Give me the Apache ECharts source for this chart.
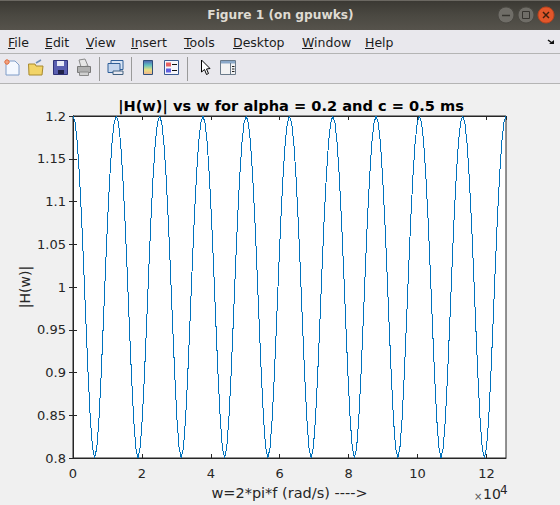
<!DOCTYPE html>
<html>
<head>
<meta charset="utf-8">
<style>
html,body{margin:0;padding:0;background:#f0f0f0}
#c{width:560px;height:505px}
/* the response curve is drawn without smoothing so it steps on the pixel grid */
#c path[stroke="#0072BD"]{shape-rendering:crispEdges}
</style>
<script src="https://cdn.jsdelivr.net/npm/echarts@6/dist/echarts.min.js"></script>
</head>
<body>
<div id="c"></div>
<script>
// Magnitude response, one row per period, in rad/s x 10^4 steps of sampleStep
const sampleStep = 0.0628318;
const magnitude = [
  1.2,1.192,1.168,1.129,1.079,1.02,0.957,0.897,0.846,0.812,0.8,0.812,0.846,0.897,0.957,1.02,1.079,1.129,1.168,1.192,
  1.2,1.192,1.168,1.129,1.079,1.02,0.957,0.897,0.846,0.812,0.8,0.812,0.846,0.897,0.957,1.02,1.079,1.129,1.168,1.192,
  1.2,1.192,1.168,1.129,1.079,1.02,0.957,0.897,0.846,0.812,0.8,0.812,0.846,0.897,0.957,1.02,1.079,1.129,1.168,1.192,
  1.2,1.192,1.168,1.129,1.079,1.02,0.957,0.897,0.846,0.812,0.8,0.812,0.846,0.897,0.957,1.02,1.079,1.129,1.168,1.192,
  1.2,1.192,1.168,1.129,1.079,1.02,0.957,0.897,0.846,0.812,0.8,0.812,0.846,0.897,0.957,1.02,1.079,1.129,1.168,1.192,
  1.2,1.192,1.168,1.129,1.079,1.02,0.957,0.897,0.846,0.812,0.8,0.812,0.846,0.897,0.957,1.02,1.079,1.129,1.168,1.192,
  1.2,1.192,1.168,1.129,1.079,1.02,0.957,0.897,0.846,0.812,0.8,0.812,0.846,0.897,0.957,1.02,1.079,1.129,1.168,1.192,
  1.2,1.192,1.168,1.129,1.079,1.02,0.957,0.897,0.846,0.812,0.8,0.812,0.846,0.897,0.957,1.02,1.079,1.129,1.168,1.192,
  1.2,1.192,1.168,1.129,1.079,1.02,0.957,0.897,0.846,0.812,0.8,0.812,0.846,0.897,0.957,1.02,1.079,1.129,1.168,1.192,
  1.2,1.192,1.168,1.129,1.079,1.02,0.957,0.897,0.846,0.812,0.8,0.812,0.846,0.897,0.957,1.02,1.079,1.129,1.168,1.192,
  1.2
];
const xTicks = [0, 2, 4, 6, 8, 10, 12];
const yTicks = ['0.8','0.85','0.9','0.95','1','1.05','1.1','1.15','1.2'];
const menuItems = [['File',8],['Edit',45],['View',86],['Insert',131],['Tools',184],['Desktop',233],['Window',302],['Help',365]];

const FONT = '"DejaVu Sans"';
const INK = '#262626';
const points = magnitude.map((v, i) => [i * sampleStep, v]);

// Window decorations are plain graphic elements around the plot
const rect = (x, y, w, h, fill, stroke) => ({type:'rect', shape:{x, y, width:w, height:h}, style:{fill, stroke: stroke || null, lineWidth:1}});
const line = (x1, y1, x2, y2, stroke, w) => ({type:'line', shape:{x1, y1, x2, y2}, style:{stroke, lineWidth:w || 1}});
const poly = (pts, fill, stroke) => ({type:'polygon', shape:{points:pts}, style:{fill, stroke: stroke || null, lineWidth:1}});
const circ = (cx, cy, r, fill, stroke) => ({type:'circle', shape:{cx, cy, r}, style:{fill, stroke: stroke || null, lineWidth:1}});
const label = (x, y, text, fontSize, fill, extra) => ({type:'text', x, y, style:Object.assign({text, fontFamily:FONT, fontSize, fill, textVerticalAlign:'middle'}, extra || {})});

const vGrad = (stops) => new echarts.graphic.LinearGradient(0, 0, 0, 1, stops.map((c, i) => ({offset:i / (stops.length - 1), color:c})));

const chrome = [
  // title bar
  rect(0, 0, 560, 30, vGrad(['#3a3833', '#4a4841', '#56534c'])),
  line(0, 0.5, 560, 0.5, '#6b6862'),
  label(280.5, 15, 'Figure 1 (on gpuwks)', 12.2, '#dfdbd2', {textAlign:'center', fontWeight:'bold'}),
  circ(506, 15, 8, '#6f6d67', '#4a4842'),
  line(502, 15.5, 510, 15.5, '#36342f', 1.5),
  circ(526, 15, 8, '#6f6d67', '#4a4842'),
  rect(522.5, 11.5, 7, 7, null, '#36342f'),
  circ(546, 15, 8, '#e2562a', '#b9431e'),
  line(543, 12, 549, 18, '#40200f', 1.5),
  line(549, 12, 543, 18, '#40200f', 1.5),
  // menu bar
  rect(0, 30, 560, 24, '#e9e8ed'),
  line(0, 53.5, 560, 53.5, '#b4b4b4'),
  // toolbar
  rect(0, 54, 560, 29, '#e9e8ed'),
  line(0, 83.5, 560, 83.5, '#b4b4b4'),
  line(99.5, 57, 99.5, 81, '#9a9a9a'),
  line(131.5, 57, 131.5, 81, '#9a9a9a'),
  line(187.5, 57, 187.5, 81, '#9a9a9a'),
  // new file
  poly([[6,61],[15,61],[19,65],[19,75],[6,75]], '#f4f8ff', '#7f9cc8'),
  circ(7, 62, 2.2, '#f0a080', '#e07040'),
  // open folder
  poly([[28.5,64],[35,64],[36,66],[43,66],[42,75],[29,75]], '#f2d468', '#a88a30'),
  line(36, 63, 41, 60, '#6f8fb8', 1.5),
  // save disk
  rect(53.5, 60.5, 14, 14, '#5a5fb0', '#2f3278'),
  rect(57, 61, 7, 5, '#e8eaf6'),
  rect(58, 70, 6, 4, '#20224a'),
  // printer
  poly([[79,60],[85,59],[88,66],[81,67]], '#e6e6e6', '#8a8a8a'),
  rect(77.5, 66.5, 13, 6, '#b0b0b0', '#7a7a7a'),
  rect(79.5, 72, 9, 3.5, '#d0d0d0', '#8a8a8a'),
  // linked figures
  rect(111, 60.5, 12, 9, '#d8e4f4', '#2f5f98'),
  rect(108, 63.5, 12, 9, '#c4d6ee', '#2f5f98'),
  rect(113, 71, 10, 3.5, '#e8e8f0', '#406080'),
  // colorbar
  {type:'rect', shape:{x:143.5, y:60.5, width:9, height:14}, style:{fill:vGrad(['#5060b0','#60c0c0','#e8e080','#f0b090']), stroke:'#2f4f78', lineWidth:1}},
  // legend
  rect(164.5, 60.5, 14, 14, '#f6f6fb', '#3a5a90'),
  rect(166, 62.5, 5, 4, '#e86060'),
  rect(166, 68.5, 5, 4, '#6060e0'),
  line(172, 64.5, 177, 64.5, '#101010'),
  line(172, 70.5, 177, 70.5, '#101010'),
  // pointer
  poly([[201.5,60],[201.5,72],[204.5,69.5],[206.5,74.5],[208.5,73.5],[206.5,69],[210,68.5]], '#ffffff', '#000000'),
  // property panel
  rect(220.5, 60.5, 15, 14, '#f2f2f2', '#6a7a8a'),
  rect(221, 61, 14, 2.5, '#8aa8c8'),
  line(230.5, 63, 230.5, 75, '#6a7a8a'),
  line(232, 66.5, 234.5, 66.5, '#202020'),
  line(232, 69, 234.5, 69, '#202020'),
  line(232, 71.5, 234.5, 71.5, '#202020'),
  // toolbar docking arrow
  line(548, 40, 552, 43, '#101010', 1.5),
  poly([[549,44],[554,44],[554,40]], '#101010'),
  // exponent of the x axis
  label(474, 496, '×', 10, '#555555', {textAlign:'left'}),
  label(483, 494, '10', 14, INK, {textAlign:'left'}),
  label(500, 489.5, '4', 12, INK, {textAlign:'left'})
];

// Underlined mnemonics in the menu bar
const menuFont = 12.5;
const menuLayer = [];
menuItems.forEach(([name, x]) => {
  menuLayer.push(label(x, 42.5, name, menuFont, '#1c1c1c'));
  const w = name[0] === 'W' ? 11 : (name[0] === 'D' || name[0] === 'H' ? 9 : 7);
  menuLayer.push(line(x, 48.5, x + w, 48.5, '#1c1c1c'));
});

const chart = echarts.init(document.getElementById('c'), null, {renderer:'svg', width:560, height:505});
const axisStyle = {lineStyle:{color:INK, width:1}};
const tickStyle = {show:true, inside:true, length:4, lineStyle:{color:INK, width:1}};
chart.setOption({
  backgroundColor:'#f0f0f0',
  animation:false,
  title:{
    text:'|H(w)| vs w for alpha = 0.2 and c = 0.5 ms',
    left:286, top:93, textAlign:'center',
    textStyle:{fontFamily:FONT, fontSize:14.6, fontWeight:'bold', color:'#000'}
  },
  grid:{left:73, top:116, width:433, height:342, show:true, backgroundColor:'#fff', borderColor:INK, borderWidth:1},
  xAxis:[
    {type:'value', min:0, max:12.566, interval:2, position:'bottom',
     name:'w=2*pi*f (rad/s) ---->', nameLocation:'middle', nameGap:27,
     nameTextStyle:{fontFamily:FONT, fontSize:14.5, color:INK},
     axisLine:axisStyle, axisTick:tickStyle, splitLine:{show:false},
     axisLabel:{fontFamily:FONT, fontSize:13, color:INK, margin:9, showMaxLabel:false,
                formatter:v => xTicks.includes(v) ? String(v) : ''}},
    {type:'value', min:0, max:12.566, interval:2, position:'top',
     axisLine:axisStyle, axisTick:tickStyle, splitLine:{show:false}, axisLabel:{show:false}}
  ],
  yAxis:[
    {type:'value', min:0.8, max:1.2, interval:0.05, position:'left',
     name:'|H(w)|', nameLocation:'middle', nameGap:41, nameMoveOverlap:false,
     nameTextStyle:{fontFamily:FONT, fontSize:14, color:INK},
     axisLine:axisStyle, axisTick:tickStyle, splitLine:{show:false},
     axisLabel:{fontFamily:FONT, fontSize:13, color:INK, margin:7, lineHeight:15, padding:[1,0,0,0],
                formatter:v => yTicks[Math.round((v - 0.8) / 0.05)]}},
    {type:'value', min:0.8, max:1.2, interval:0.05, position:'right',
     axisLine:axisStyle, axisTick:tickStyle, splitLine:{show:false}, axisLabel:{show:false}}
  ],
  series:[{type:'line', data:points, showSymbol:false, smooth:false,
           lineStyle:{color:'#0072BD', width:1}, clip:true}],
  graphic:{elements:chrome.concat(menuLayer).map(e => Object.assign({silent:true}, e))}
});
</script>
</body>
</html>
